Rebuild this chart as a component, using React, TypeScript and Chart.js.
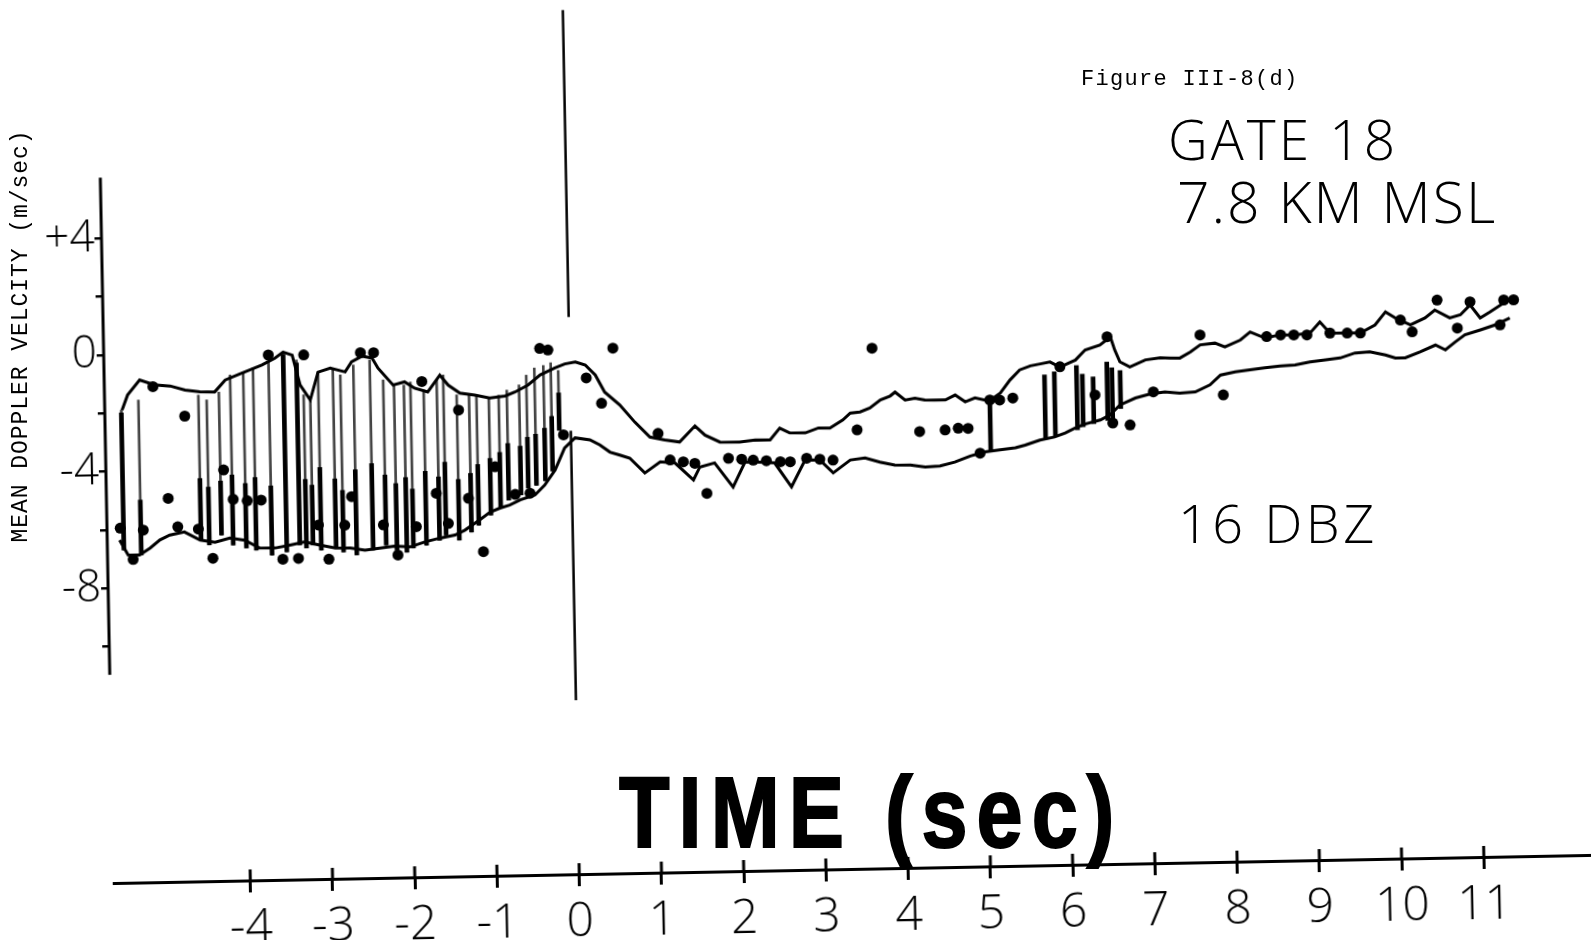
import React, { useEffect, useRef } from 'react';
import { Chart, registerables } from 'chart.js';

Chart.register(...registerables);

// ---------------- data: time (sec) / mean Doppler velocity (m/sec) ----------------
const xTickValues = [-4, -3, -2, -1, 0, 1, 2, 3, 4, 5, 6, 7, 8, 9, 10, 11];
const yTickValues = [-10, -8, -6, -4, -2, 0, 2, 4];
const yTickLabels: Record<string, string> = { '4': '+4', '0': '0', '-4': '-4', '-8': '-8' };

// upper trace
const upperT = [-5.45,-5.38,-5.23,-5.05,-4.86,-4.68,-4.50,-4.32,-4.19,-4.01,
  -3.89,-3.74,-3.58,-3.48,-3.37,-3.28,-3.16,-3.06,-2.91,-2.73,
  -2.65,-2.52,-2.40,-2.33,-2.15,-2.01,-1.89,-1.73,-1.58,-1.48,
  -1.34,-1.16,-0.98,-0.79,-0.67,-0.51,-0.36,-0.18,-0.06,0.07,
  0.19,0.31,0.42,0.60,0.78,0.96,1.14,1.32,1.51,1.63,
  1.81,2.05,2.24,2.42,2.54,2.66,2.85,3.01,3.15,3.31,
  3.40,3.52,3.64,3.77,3.89,3.95,4.07,4.19,4.31,4.43,
  4.56,4.68,4.80,4.92,5.04,5.14,5.23,5.35,5.47,5.60,
  5.72,5.84,5.96,6.15,6.27,6.45,6.58,6.63,6.69,6.81,
  7.00,7.18,7.30,7.42,7.55,7.67,7.85,7.97,8.16,8.28,
  8.46,8.64,8.83,9.01,9.13,9.25,9.43,9.62,9.80,9.93,
  10.05,10.23,10.41,10.53,10.71,10.84,10.96,11.08,11.20,11.33,
  11.45,11.51];
const upperV = [-1.90,-1.39,-0.88,-1.06,-1.11,-1.26,-1.33,-1.34,-0.94,-0.74,
  -0.61,-0.45,-0.22,-0.02,-0.13,-1.16,-1.68,-0.73,-0.60,-0.74,
  -0.40,-0.21,-0.28,-0.63,-1.22,-1.12,-1.34,-1.48,-0.91,-1.26,
  -1.54,-1.62,-1.73,-1.67,-1.54,-1.31,-0.97,-0.74,-0.61,-0.55,
  -0.66,-1.01,-1.60,-2.05,-2.65,-3.17,-3.28,-3.36,-2.82,-3.14,
  -3.39,-3.40,-3.34,-3.35,-2.95,-3.12,-3.13,-2.97,-2.98,-2.71,
  -2.48,-2.45,-2.32,-2.05,-1.92,-1.79,-2.07,-2.01,-2.08,-2.09,
  -2.09,-1.93,-2.17,-2.04,-2.12,-2.06,-1.89,-1.45,-1.11,-0.98,
  -0.92,-0.86,-1.04,-0.81,-0.47,-0.31,-0.04,-0.49,-0.90,-1.08,
  -0.85,-0.79,-0.80,-0.81,-0.61,-0.37,-0.32,-0.46,-0.23,0.04,
  -0.18,-0.08,-0.09,-0.03,0.34,-0.05,-0.06,-0.07,0.20,0.64,
  0.42,0.18,0.41,0.67,0.39,0.49,0.82,0.37,0.57,0.80,
  0.97,1.03];

// lower trace
const lowerT = [-5.51,-5.41,-5.27,-5.14,-5.02,-4.90,-4.72,-4.53,-4.35,-4.17,
  -3.99,-3.81,-3.62,-3.44,-3.26,-3.08,-2.89,-2.71,-2.53,-2.35,
  -2.17,-1.98,-1.80,-1.62,-1.43,-1.31,-1.13,-1.00,-0.88,-0.76,
  -0.63,-0.45,-0.33,-0.20,-0.08,0.05,0.23,0.35,0.47,0.59,
  0.71,0.89,1.08,1.26,1.48,1.56,1.74,1.96,2.11,2.29,
  2.47,2.67,2.84,3.02,3.18,3.39,3.57,3.75,3.93,4.12,
  4.30,4.48,4.66,4.85,5.03,5.21,5.40,5.52,5.70,5.88,
  6.01,6.13,6.25,6.44,6.56,6.68,6.87,7.05,7.23,7.41,
  7.60,7.78,7.91,8.09,8.27,8.45,8.64,8.82,9.00,9.19,
  9.37,9.55,9.73,9.92,10.04,10.16,10.34,10.53,10.65,10.77,
  10.89,11.08,11.26,11.44];
const lowerV = [-6.36,-6.87,-6.88,-6.65,-6.38,-6.22,-6.12,-6.41,-6.49,-6.36,
  -6.44,-6.72,-6.73,-6.64,-6.54,-6.66,-6.77,-6.78,-6.86,-6.80,
  -6.74,-6.78,-6.62,-6.50,-6.40,-6.24,-5.90,-5.64,-5.51,-5.41,
  -5.24,-5.08,-4.75,-4.24,-3.49,-3.15,-3.23,-3.41,-3.66,-3.77,
  -3.88,-4.40,-4.03,-4.08,-4.67,-4.23,-4.10,-4.94,-4.09,-4.10,
  -4.14,-4.97,-4.06,-4.07,-4.52,-4.09,-4.03,-4.18,-4.29,-4.30,
  -4.38,-4.35,-4.23,-4.03,-3.90,-3.84,-3.78,-3.69,-3.53,-3.43,
  -3.30,-3.14,-3.01,-2.88,-2.71,-2.38,-2.15,-2.02,-1.96,-2.01,
  -1.98,-1.75,-1.42,-1.32,-1.26,-1.20,-1.15,-1.12,-1.03,-0.97,
  -0.91,-0.75,-0.72,-0.84,-0.95,-0.95,-0.76,-0.53,-0.70,-0.44,
  -0.20,-0.04,0.12,0.35];

// individual estimates (dots)
const dotT = [-5.50,-5.35,-5.22,-5.07,-4.91,-4.80,-4.69,-4.55,-4.38,-4.23,
  -4.12,-3.95,-3.78,-3.66,-3.53,-3.34,-3.23,-3.09,-2.97,-2.77,
  -2.68,-2.54,-2.38,-2.30,-2.13,-1.90,-1.80,-1.65,-1.51,-1.36,
  -1.26,-1.09,-0.93,-0.69,-0.51,-0.36,-0.26,-0.09,0.20,0.38,
  0.53,1.06,1.20,1.36,1.50,1.64,1.91,2.07,2.21,2.37,
  2.54,2.66,2.86,3.02,3.18,3.48,3.68,4.24,4.55,4.71,
  4.83,4.97,5.10,5.22,5.38,5.96,6.38,6.54,6.59,6.80,
  7.09,7.67,7.94,8.48,8.65,8.81,8.97,9.25,9.46,9.62,
  10.11,10.25,10.56,10.80,10.96,11.32,11.37,11.49];
const dotV = [-5.95,-7.03,-6.03,-1.12,-4.96,-5.94,-2.15,-6.03,-7.04,-4.02,
  -5.03,-5.09,-5.08,-0.11,-7.12,-7.10,-0.13,-5.97,-7.15,-5.99,
  -5.02,-0.09,-0.10,-6.01,-7.05,-6.09,-1.12,-4.96,-6.00,-2.12,
  -5.15,-6.99,-4.09,-5.05,-5.02,-0.06,-0.12,-3.04,-1.10,-1.98,
  -0.10,-3.05,-3.97,-4.04,-4.10,-5.14,-3.95,-3.99,-4.03,-4.06,
  -4.10,-4.11,-4.00,-4.04,-4.08,-3.06,-0.27,-3.16,-3.12,-3.07,
  -3.08,-3.94,-2.12,-2.13,-2.07,-1.03,-2.02,-0.03,-2.99,-3.07,
  -1.95,-0.03,-2.10,-0.13,-0.08,-0.09,-0.10,-0.05,-0.06,-0.07,
  0.35,-0.06,1.01,0.04,0.93,0.12,0.97,0.97];

// fast fluctuation strokes before t = 0
const strokeT = [-5.46,-5.25,-4.52,-4.42,-4.27,-4.13,-3.97,-3.85,-3.66,-3.48,
  -3.32,-3.24,-3.16,-3.06,-2.88,-2.79,-2.63,-2.43,-2.27,-2.14,
  -2.02,-1.94,-1.78,-1.62,-1.54,-1.38,-1.23,-1.14,-0.99,-0.87,
  -0.77,-0.62,-0.53,-0.43,-0.32,-0.23,-0.14];
const strokeTop = [-1.90,-1.57,-1.44,-1.61,-1.35,-0.77,-0.68,-0.55,-0.35,-0.02,
  -0.30,-1.50,-1.68,-0.73,-0.67,-0.84,-0.51,-0.35,-1.04,-1.22,
  -1.23,-1.13,-1.41,-1.08,-0.91,-1.60,-1.61,-1.62,-1.73,-1.64,
  -1.47,-1.30,-0.97,-0.73,-0.65,-0.56,-0.83];
const strokeBottom = [-6.70,-6.88,-6.41,-6.58,-6.25,-6.60,-6.71,-6.79,-6.97,-6.87,
  -6.64,-6.75,-6.65,-6.83,-6.77,-6.91,-7.02,-6.86,-6.70,-6.88,
  -6.96,-6.82,-6.73,-6.57,-6.40,-6.58,-6.31,-6.08,-5.74,-5.51,
  -5.24,-5.07,-4.84,-4.75,-4.60,-4.27,-2.88];
const strokeDarkTop = [-2.0,-5.0,-4.3,-4.6,-4.4,-4.2,-4.5,-4.3,-4.6,-0.1,
  -0.4,-4.4,-4.6,-4.0,-4.4,-4.8,-4.1,-3.9,-4.3,-4.6,
  -4.4,-4.8,-4.2,-4.4,-3.9,-4.5,-4.3,-4.0,-3.8,-3.6,
  -3.3,-3.4,-3.1,-3.0,-2.8,-2.4,-1.6];
// strokes between the traces near 5-7 sec
const midStrokeT = [5.10, 5.77, 5.89, 6.16, 6.23, 6.36, 6.53, 6.59, 6.69];
const midStrokeTop = [-2.1, -1.3, -1.2, -1.0, -1.3, -1.4, -0.9, -1.1, -1.2];
const midStrokeBottom = [-3.9, -3.5, -3.4, -3.2, -3.1, -3.0, -2.9, -2.9, -2.5];

// ---------------- layout / style constants ----------------
const CANVAS_W = 1671;
const CANVAS_H = 1020;
const CANVAS_SHIFT = 40;
const Y_AXIS_BOX = 146;
const X_AXIS_BOX = 110;
const X_MIN = -5.661;
const X_MAX = 12.88;
const Y_MIN = -18.108;
const Y_MAX = 13.089;
const Y_AXIS_EXTENT = [6.08, -10.97];
const ZERO_LINE_SEGMENTS = [[11.52, 1.0], [-2.9, -12.14]];
const SCAN_TILT = 'rotate(-1.09deg)';
const LIGHT_SANS = "'Open Sans', 'Noto Sans', 'DejaVu Sans', sans-serif";
const MONO = "'Liberation Mono', 'DejaVu Sans Mono', monospace";

const scanAxesPlugin = {
  id: 'scanAxes',
  afterDatasetsDraw(chart: any) {
    const { ctx, chartArea } = chart;
    const x = chart.scales.x;
    const y = chart.scales.y;
    ctx.save();
    ctx.strokeStyle = '#000';
    ctx.lineCap = 'butt';
    // vertical axis line (only over its drawn extent)
    ctx.lineWidth = 3;
    ctx.beginPath();
    ctx.moveTo(chartArea.left, y.getPixelForValue(Y_AXIS_EXTENT[0]));
    ctx.lineTo(chartArea.left, y.getPixelForValue(Y_AXIS_EXTENT[1]));
    ctx.stroke();
    // t = 0 reference line
    ctx.lineWidth = 2.5;
    const zx = x.getPixelForValue(0);
    ZERO_LINE_SEGMENTS.forEach(([a, b]) => {
      ctx.beginPath();
      ctx.moveTo(zx, y.getPixelForValue(a));
      ctx.lineTo(zx, y.getPixelForValue(b));
      ctx.stroke();
    });
    // upper half of the crossing tick marks on the time axis
    ctx.lineWidth = 3;
    x.ticks.forEach((tk: any) => {
      const px = x.getPixelForValue(tk.value);
      ctx.beginPath();
      ctx.moveTo(px, chartArea.bottom - 11);
      ctx.lineTo(px, chartArea.bottom);
      ctx.stroke();
    });
    ctx.restore();
  },
};

export default function App() {
  const canvasRef = useRef<HTMLCanvasElement>(null);

  useEffect(() => {
    const canvas = canvasRef.current;
    if (!canvas) return;
    const chart = new Chart(canvas, {
      type: 'line',
      data: {
        datasets: [
          {
            type: 'line',
            label: 'estimates',
            data: dotT.map((t, i) => ({ x: t, y: dotV[i] })),
            showLine: false,
            pointRadius: 5.5,
            pointBackgroundColor: '#000',
            pointBorderColor: '#000',
            pointBorderWidth: 0,
          },
          {
            type: 'line',
            label: 'upper trace',
            data: upperT.map((t, i) => ({ x: t, y: upperV[i] })),
            borderColor: '#000',
            borderWidth: 3,
            pointRadius: 0,
            tension: 0,
            fill: false,
          },
          {
            type: 'line',
            label: 'lower trace',
            data: lowerT.map((t, i) => ({ x: t, y: lowerV[i] })),
            borderColor: '#000',
            borderWidth: 3,
            pointRadius: 0,
            tension: 0,
            fill: false,
          },
          {
            type: 'bar',
            label: 'dark strokes',
            data: [
              ...strokeT.map((t, i) => ({ x: t, y: [strokeBottom[i], strokeDarkTop[i]] })),
              ...midStrokeT.map((t, i) => ({ x: t, y: [midStrokeBottom[i], midStrokeTop[i]] })),
            ],
            backgroundColor: '#000',
            barThickness: 4,
            grouped: false,
            borderWidth: 0,
          },
          {
            type: 'bar',
            label: 'strokes',
            data: strokeT.map((t, i) => ({ x: t, y: [strokeBottom[i], strokeTop[i]] })),
            backgroundColor: '#444',
            barThickness: 2,
            grouped: false,
            borderWidth: 0,
          },
        ] as any,
      },
      options: {
        animation: false,
        responsive: false,
        devicePixelRatio: 1,
        events: [],
        layout: { padding: 0, autoPadding: false },
        plugins: {
          legend: { display: false },
          tooltip: { enabled: false },
          title: { display: false },
        },
        scales: {
          x: {
            type: 'linear',
            position: 'bottom',
            min: X_MIN,
            max: X_MAX,
            offset: false,
            afterBuildTicks: (s: any) => {
              s.ticks = xTickValues.map((v) => ({ value: v }));
            },
            afterFit: (s: any) => {
              s.height = X_AXIS_BOX;
              s.paddingLeft = 0;
              s.paddingRight = 0;
            },
            grid: { offset: false, drawOnChartArea: false, drawTicks: true, tickLength: 12, color: '#000', lineWidth: 3 },
            border: { display: true, color: '#000', width: 3 },
            ticks: {
              autoSkip: false,
              maxRotation: 0,
              color: '#000',
              padding: 8,
              font: { family: LIGHT_SANS, size: 48, weight: '300' as any },
              callback: (v: any) => String(v),
            },
          },
          y: {
            type: 'linear',
            position: 'left',
            min: Y_MIN,
            max: Y_MAX,
            afterBuildTicks: (s: any) => {
              s.ticks = yTickValues.map((v) => ({ value: v }));
            },
            afterFit: (s: any) => {
              s.width = Y_AXIS_BOX;
              s.paddingTop = 0;
              s.paddingBottom = 0;
            },
            grid: { offset: false, drawOnChartArea: false, drawTicks: true, tickLength: 7, color: '#000', lineWidth: 2.5 },
            border: { display: false },
            ticks: {
              color: '#000',
              padding: 0,
              font: { family: LIGHT_SANS, size: 44, weight: '300' as any },
              callback: (v: any) => yTickLabels[String(v)] ?? '',
            },
          },
        },
      } as any,
      plugins: [scanAxesPlugin],
    });
    return () => chart.destroy();
  }, []);

  const abs = (o: any) => ({ position: 'absolute' as const, whiteSpace: 'nowrap' as const, color: '#000', margin: 0, ...o });

  return (
    <div style={{ position: 'fixed', left: 0, top: 0, width: 1591, height: 940, overflow: 'hidden', background: '#fff' }}>
      <canvas
        ref={canvasRef}
        width={CANVAS_W}
        height={CANVAS_H}
        style={{
          position: 'absolute',
          left: -CANVAS_SHIFT,
          top: -CANVAS_SHIFT,
          width: CANVAS_W,
          height: CANVAS_H,
          transform: SCAN_TILT,
          transformOrigin: '835px 510px',
        }}
      />
      <div style={abs({ left: 1081, top: 69, fontFamily: MONO, fontSize: 22, lineHeight: '22px', letterSpacing: '1.3px' })}>
        Figure III-8(d)
      </div>
      <div style={abs({ left: 1168, top: 111, fontFamily: LIGHT_SANS, fontWeight: 300, fontSize: 55, lineHeight: '55px', letterSpacing: '3px' })}>
        GATE 18
      </div>
      <div style={abs({ left: 1177, top: 173, fontFamily: LIGHT_SANS, fontWeight: 300, fontSize: 57, lineHeight: '57px', letterSpacing: '2px' })}>
        7.8 KM MSL
      </div>
      <div style={abs({ left: 1178, top: 495, fontFamily: LIGHT_SANS, fontWeight: 300, fontSize: 54, lineHeight: '54px', letterSpacing: '3.5px' })}>
        16 DBZ
      </div>
      <div
        style={abs({
          left: 619,
          top: 762,
          fontFamily: "'Liberation Sans', Arial, sans-serif",
          fontWeight: 700,
          fontSize: 101,
          lineHeight: '101px',
          letterSpacing: '11px',
          transform: 'scaleX(0.82)',
          transformOrigin: 'left top',
          WebkitTextStroke: '2px #000',
        })}
      >
        TIME (sec)
      </div>
      <div
        style={abs({
          left: 21 - 230,
          top: 336 - 15,
          width: 460,
          height: 30,
          lineHeight: '30px',
          textAlign: 'center',
          fontFamily: MONO,
          fontSize: 23,
          letterSpacing: '0.95px',
          transform: 'rotate(-90deg)',
        })}
      >
        MEAN DOPPLER VELCITY (m/sec)
      </div>
    </div>
  );
}
